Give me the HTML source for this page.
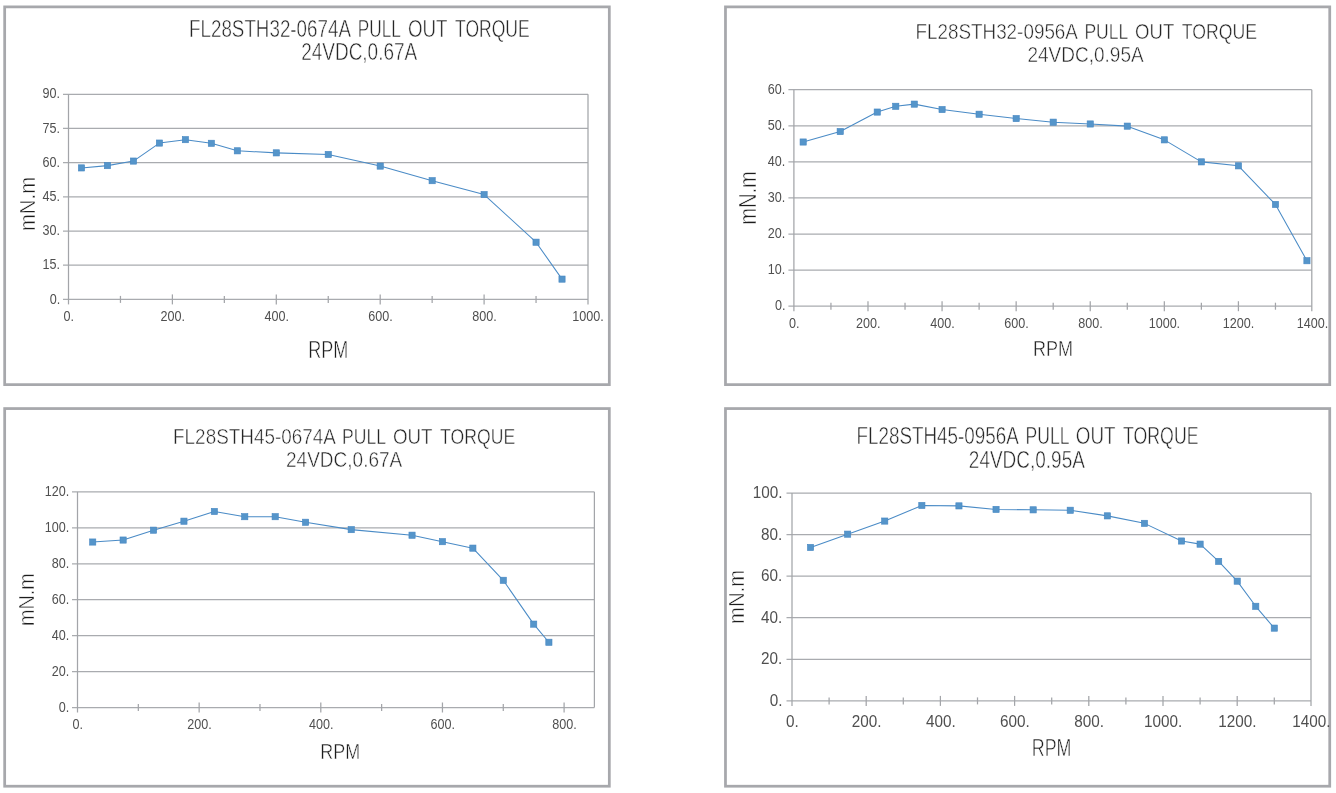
<!DOCTYPE html>
<html><head><meta charset="utf-8"><style>
html,body{margin:0;padding:0;background:#fff;width:1336px;height:793px;overflow:hidden}
svg{display:block}
text{font-family:"Liberation Sans", sans-serif}
.t{stroke:#fff;stroke-width:0.5px}
.l{}
</style></head><body>
<svg width="1336" height="793" viewBox="0 0 1336 793">
<defs><filter id="b" x="0" y="0" width="1336" height="793" filterUnits="userSpaceOnUse"><feGaussianBlur stdDeviation="0.35"/></filter></defs>
<g filter="url(#b)">
<rect width="1336" height="793" fill="#fff"/>
<rect x="4.67" y="6.88" width="604.65" height="377.75" fill="none" stroke="#a7a8ac" stroke-width="2.75"/>
<line x1="63.00" y1="299.40" x2="588.00" y2="299.40" stroke="#a9abaf" stroke-width="1.25"/>
<line x1="63.00" y1="265.22" x2="588.00" y2="265.22" stroke="#a9abaf" stroke-width="1.25"/>
<line x1="63.00" y1="231.03" x2="588.00" y2="231.03" stroke="#a9abaf" stroke-width="1.25"/>
<line x1="63.00" y1="196.85" x2="588.00" y2="196.85" stroke="#a9abaf" stroke-width="1.25"/>
<line x1="63.00" y1="162.67" x2="588.00" y2="162.67" stroke="#a9abaf" stroke-width="1.25"/>
<line x1="63.00" y1="128.48" x2="588.00" y2="128.48" stroke="#a9abaf" stroke-width="1.25"/>
<line x1="63.00" y1="94.30" x2="588.00" y2="94.30" stroke="#a9abaf" stroke-width="1.25"/>
<line x1="68.50" y1="94.30" x2="68.50" y2="304.40" stroke="#a3a5a9" stroke-width="1.25"/>
<line x1="588.00" y1="94.30" x2="588.00" y2="304.40" stroke="#a3a5a9" stroke-width="1.25"/>
<line x1="120.45" y1="295.90" x2="120.45" y2="302.90" stroke="#a3a5a9" stroke-width="1.25"/>
<line x1="172.40" y1="294.40" x2="172.40" y2="304.40" stroke="#a3a5a9" stroke-width="1.25"/>
<line x1="224.35" y1="295.90" x2="224.35" y2="302.90" stroke="#a3a5a9" stroke-width="1.25"/>
<line x1="276.30" y1="294.40" x2="276.30" y2="304.40" stroke="#a3a5a9" stroke-width="1.25"/>
<line x1="328.25" y1="295.90" x2="328.25" y2="302.90" stroke="#a3a5a9" stroke-width="1.25"/>
<line x1="380.20" y1="294.40" x2="380.20" y2="304.40" stroke="#a3a5a9" stroke-width="1.25"/>
<line x1="432.15" y1="295.90" x2="432.15" y2="302.90" stroke="#a3a5a9" stroke-width="1.25"/>
<line x1="484.10" y1="294.40" x2="484.10" y2="304.40" stroke="#a3a5a9" stroke-width="1.25"/>
<line x1="536.05" y1="295.90" x2="536.05" y2="302.90" stroke="#a3a5a9" stroke-width="1.25"/>
<text class="l" transform="translate(49.68,303.50) scale(0.9000,1)" font-size="14.00" fill="#505050">0.</text>
<text class="l" transform="translate(42.62,269.32) scale(0.9000,1)" font-size="14.00" fill="#505050">15.</text>
<text class="l" transform="translate(42.62,235.13) scale(0.9000,1)" font-size="14.00" fill="#505050">30.</text>
<text class="l" transform="translate(42.62,200.95) scale(0.9000,1)" font-size="14.00" fill="#505050">45.</text>
<text class="l" transform="translate(42.62,166.77) scale(0.9000,1)" font-size="14.00" fill="#505050">60.</text>
<text class="l" transform="translate(42.62,132.58) scale(0.9000,1)" font-size="14.00" fill="#505050">75.</text>
<text class="l" transform="translate(42.62,98.40) scale(0.9000,1)" font-size="14.00" fill="#505050">90.</text>
<text class="l" transform="translate(63.59,321.20) scale(0.9000,1)" font-size="14.00" fill="#505050">0.</text>
<text class="l" transform="translate(160.43,321.20) scale(0.9000,1)" font-size="14.00" fill="#505050">200.</text>
<text class="l" transform="translate(264.52,321.20) scale(0.9000,1)" font-size="14.00" fill="#505050">400.</text>
<text class="l" transform="translate(368.23,321.20) scale(0.9000,1)" font-size="14.00" fill="#505050">600.</text>
<text class="l" transform="translate(472.19,321.20) scale(0.9000,1)" font-size="14.00" fill="#505050">800.</text>
<text class="l" transform="translate(572.31,321.20) scale(0.9000,1)" font-size="14.00" fill="#505050">1000.</text>
<polyline points="81.49,167.91 107.46,165.63 133.44,161.07 159.41,143.07 185.39,139.65 211.36,143.30 237.34,150.82 276.30,152.87 328.25,154.46 380.20,166.09 432.15,180.67 484.10,194.57 536.05,242.20 562.02,279.12" fill="none" stroke="#4a8bc6" stroke-width="1.05" stroke-linejoin="round"/>
<rect x="78.39" y="164.81" width="6.2" height="6.2" fill="#5595ca" stroke="#4586c2" stroke-width="0.6"/>
<rect x="104.36" y="162.53" width="6.2" height="6.2" fill="#5595ca" stroke="#4586c2" stroke-width="0.6"/>
<rect x="130.34" y="157.97" width="6.2" height="6.2" fill="#5595ca" stroke="#4586c2" stroke-width="0.6"/>
<rect x="156.31" y="139.97" width="6.2" height="6.2" fill="#5595ca" stroke="#4586c2" stroke-width="0.6"/>
<rect x="182.29" y="136.55" width="6.2" height="6.2" fill="#5595ca" stroke="#4586c2" stroke-width="0.6"/>
<rect x="208.26" y="140.20" width="6.2" height="6.2" fill="#5595ca" stroke="#4586c2" stroke-width="0.6"/>
<rect x="234.24" y="147.72" width="6.2" height="6.2" fill="#5595ca" stroke="#4586c2" stroke-width="0.6"/>
<rect x="273.20" y="149.77" width="6.2" height="6.2" fill="#5595ca" stroke="#4586c2" stroke-width="0.6"/>
<rect x="325.15" y="151.36" width="6.2" height="6.2" fill="#5595ca" stroke="#4586c2" stroke-width="0.6"/>
<rect x="377.10" y="162.99" width="6.2" height="6.2" fill="#5595ca" stroke="#4586c2" stroke-width="0.6"/>
<rect x="429.05" y="177.57" width="6.2" height="6.2" fill="#5595ca" stroke="#4586c2" stroke-width="0.6"/>
<rect x="481.00" y="191.47" width="6.2" height="6.2" fill="#5595ca" stroke="#4586c2" stroke-width="0.6"/>
<rect x="532.95" y="239.10" width="6.2" height="6.2" fill="#5595ca" stroke="#4586c2" stroke-width="0.6"/>
<rect x="558.92" y="276.02" width="6.2" height="6.2" fill="#5595ca" stroke="#4586c2" stroke-width="0.6"/>
<text class="t" transform="translate(189.00,37.10) scale(0.8125,1)" font-size="23.14" fill="#262626">FL28STH32-0674A</text>
<text class="t" transform="translate(357.72,37.10) scale(0.7449,1)" font-size="23.14" fill="#262626">PULL</text>
<text class="t" transform="translate(408.06,37.10) scale(0.8091,1)" font-size="23.14" fill="#262626">OUT</text>
<text class="t" transform="translate(455.05,37.10) scale(0.7582,1)" font-size="23.14" fill="#262626">TORQUE</text>
<text class="t" transform="translate(301.15,60.40) scale(0.8258,1)" font-size="23.00" fill="#262626">24VDC,0.67A</text>
<text class="t" transform="translate(308.26,357.80) scale(0.7788,1)" font-size="23.19" fill="#1f1f1f">RPM</text>
<text class="t" transform="translate(35.20,231.12) rotate(-90) scale(0.8890,1)" font-size="22.90" fill="#1f1f1f">mN.m</text>
<rect x="725.48" y="6.88" width="604.25" height="377.75" fill="none" stroke="#a7a8ac" stroke-width="2.75"/>
<line x1="788.40" y1="306.20" x2="1311.80" y2="306.20" stroke="#a9abaf" stroke-width="1.25"/>
<line x1="788.40" y1="270.12" x2="1311.80" y2="270.12" stroke="#a9abaf" stroke-width="1.25"/>
<line x1="788.40" y1="234.03" x2="1311.80" y2="234.03" stroke="#a9abaf" stroke-width="1.25"/>
<line x1="788.40" y1="197.95" x2="1311.80" y2="197.95" stroke="#a9abaf" stroke-width="1.25"/>
<line x1="788.40" y1="161.87" x2="1311.80" y2="161.87" stroke="#a9abaf" stroke-width="1.25"/>
<line x1="788.40" y1="125.78" x2="1311.80" y2="125.78" stroke="#a9abaf" stroke-width="1.25"/>
<line x1="788.40" y1="89.70" x2="1311.80" y2="89.70" stroke="#a9abaf" stroke-width="1.25"/>
<line x1="793.90" y1="89.70" x2="793.90" y2="311.20" stroke="#a3a5a9" stroke-width="1.25"/>
<line x1="1311.80" y1="89.70" x2="1311.80" y2="311.20" stroke="#a3a5a9" stroke-width="1.25"/>
<line x1="830.94" y1="302.70" x2="830.94" y2="309.70" stroke="#a3a5a9" stroke-width="1.25"/>
<line x1="867.99" y1="301.20" x2="867.99" y2="311.20" stroke="#a3a5a9" stroke-width="1.25"/>
<line x1="905.03" y1="302.70" x2="905.03" y2="309.70" stroke="#a3a5a9" stroke-width="1.25"/>
<line x1="942.07" y1="301.20" x2="942.07" y2="311.20" stroke="#a3a5a9" stroke-width="1.25"/>
<line x1="979.11" y1="302.70" x2="979.11" y2="309.70" stroke="#a3a5a9" stroke-width="1.25"/>
<line x1="1016.16" y1="301.20" x2="1016.16" y2="311.20" stroke="#a3a5a9" stroke-width="1.25"/>
<line x1="1053.20" y1="302.70" x2="1053.20" y2="309.70" stroke="#a3a5a9" stroke-width="1.25"/>
<line x1="1090.24" y1="301.20" x2="1090.24" y2="311.20" stroke="#a3a5a9" stroke-width="1.25"/>
<line x1="1127.29" y1="302.70" x2="1127.29" y2="309.70" stroke="#a3a5a9" stroke-width="1.25"/>
<line x1="1164.33" y1="301.20" x2="1164.33" y2="311.20" stroke="#a3a5a9" stroke-width="1.25"/>
<line x1="1201.37" y1="302.70" x2="1201.37" y2="309.70" stroke="#a3a5a9" stroke-width="1.25"/>
<line x1="1238.41" y1="301.20" x2="1238.41" y2="311.20" stroke="#a3a5a9" stroke-width="1.25"/>
<line x1="1275.46" y1="302.70" x2="1275.46" y2="309.70" stroke="#a3a5a9" stroke-width="1.25"/>
<text class="l" transform="translate(774.88,310.30) scale(0.9000,1)" font-size="14.00" fill="#505050">0.</text>
<text class="l" transform="translate(767.82,274.22) scale(0.9000,1)" font-size="14.00" fill="#505050">10.</text>
<text class="l" transform="translate(767.82,238.13) scale(0.9000,1)" font-size="14.00" fill="#505050">20.</text>
<text class="l" transform="translate(767.82,202.05) scale(0.9000,1)" font-size="14.00" fill="#505050">30.</text>
<text class="l" transform="translate(767.82,165.97) scale(0.9000,1)" font-size="14.00" fill="#505050">40.</text>
<text class="l" transform="translate(767.82,129.88) scale(0.9000,1)" font-size="14.00" fill="#505050">50.</text>
<text class="l" transform="translate(767.82,93.80) scale(0.9000,1)" font-size="14.00" fill="#505050">60.</text>
<text class="l" transform="translate(788.99,328.00) scale(0.9000,1)" font-size="14.00" fill="#505050">0.</text>
<text class="l" transform="translate(856.02,328.00) scale(0.9000,1)" font-size="14.00" fill="#505050">200.</text>
<text class="l" transform="translate(930.29,328.00) scale(0.9000,1)" font-size="14.00" fill="#505050">400.</text>
<text class="l" transform="translate(1004.19,328.00) scale(0.9000,1)" font-size="14.00" fill="#505050">600.</text>
<text class="l" transform="translate(1078.34,328.00) scale(0.9000,1)" font-size="14.00" fill="#505050">800.</text>
<text class="l" transform="translate(1148.64,328.00) scale(0.9000,1)" font-size="14.00" fill="#505050">1000.</text>
<text class="l" transform="translate(1222.73,328.00) scale(0.9000,1)" font-size="14.00" fill="#505050">1200.</text>
<text class="l" transform="translate(1296.81,328.00) scale(0.9000,1)" font-size="14.00" fill="#505050">1400.</text>
<polyline points="803.16,142.02 840.20,131.56 877.25,112.07 895.77,106.30 914.29,104.13 942.07,109.55 979.11,114.24 1016.16,118.57 1053.20,122.17 1090.24,123.98 1127.29,126.14 1164.33,139.86 1201.37,161.87 1238.41,165.84 1275.46,204.44 1306.94,260.74" fill="none" stroke="#4a8bc6" stroke-width="1.05" stroke-linejoin="round"/>
<rect x="800.06" y="138.92" width="6.2" height="6.2" fill="#5595ca" stroke="#4586c2" stroke-width="0.6"/>
<rect x="837.10" y="128.46" width="6.2" height="6.2" fill="#5595ca" stroke="#4586c2" stroke-width="0.6"/>
<rect x="874.15" y="108.97" width="6.2" height="6.2" fill="#5595ca" stroke="#4586c2" stroke-width="0.6"/>
<rect x="892.67" y="103.20" width="6.2" height="6.2" fill="#5595ca" stroke="#4586c2" stroke-width="0.6"/>
<rect x="911.19" y="101.03" width="6.2" height="6.2" fill="#5595ca" stroke="#4586c2" stroke-width="0.6"/>
<rect x="938.97" y="106.45" width="6.2" height="6.2" fill="#5595ca" stroke="#4586c2" stroke-width="0.6"/>
<rect x="976.01" y="111.14" width="6.2" height="6.2" fill="#5595ca" stroke="#4586c2" stroke-width="0.6"/>
<rect x="1013.06" y="115.47" width="6.2" height="6.2" fill="#5595ca" stroke="#4586c2" stroke-width="0.6"/>
<rect x="1050.10" y="119.07" width="6.2" height="6.2" fill="#5595ca" stroke="#4586c2" stroke-width="0.6"/>
<rect x="1087.14" y="120.88" width="6.2" height="6.2" fill="#5595ca" stroke="#4586c2" stroke-width="0.6"/>
<rect x="1124.19" y="123.04" width="6.2" height="6.2" fill="#5595ca" stroke="#4586c2" stroke-width="0.6"/>
<rect x="1161.23" y="136.76" width="6.2" height="6.2" fill="#5595ca" stroke="#4586c2" stroke-width="0.6"/>
<rect x="1198.27" y="158.77" width="6.2" height="6.2" fill="#5595ca" stroke="#4586c2" stroke-width="0.6"/>
<rect x="1235.31" y="162.74" width="6.2" height="6.2" fill="#5595ca" stroke="#4586c2" stroke-width="0.6"/>
<rect x="1272.36" y="201.34" width="6.2" height="6.2" fill="#5595ca" stroke="#4586c2" stroke-width="0.6"/>
<rect x="1303.84" y="257.63" width="6.2" height="6.2" fill="#5595ca" stroke="#4586c2" stroke-width="0.6"/>
<text class="t" transform="translate(915.39,38.60) scale(0.8362,1)" font-size="22.57" fill="#262626">FL28STH32-0956A</text>
<text class="t" transform="translate(1084.39,38.60) scale(0.7786,1)" font-size="22.57" fill="#262626">PULL</text>
<text class="t" transform="translate(1135.07,38.60) scale(0.8231,1)" font-size="22.57" fill="#262626">OUT</text>
<text class="t" transform="translate(1181.75,38.60) scale(0.7827,1)" font-size="22.57" fill="#262626">TORQUE</text>
<text class="t" transform="translate(1027.45,61.80) scale(0.8422,1)" font-size="22.57" fill="#262626">24VDC,0.95A</text>
<text class="t" transform="translate(1033.06,355.80) scale(0.7936,1)" font-size="22.75" fill="#1f1f1f">RPM</text>
<text class="t" transform="translate(755.80,224.81) rotate(-90) scale(0.8676,1)" font-size="23.19" fill="#1f1f1f">mN.m</text>
<rect x="4.67" y="408.57" width="604.65" height="377.65" fill="none" stroke="#a7a8ac" stroke-width="2.75"/>
<line x1="72.00" y1="707.50" x2="594.40" y2="707.50" stroke="#a9abaf" stroke-width="1.25"/>
<line x1="72.00" y1="671.57" x2="594.40" y2="671.57" stroke="#a9abaf" stroke-width="1.25"/>
<line x1="72.00" y1="635.63" x2="594.40" y2="635.63" stroke="#a9abaf" stroke-width="1.25"/>
<line x1="72.00" y1="599.70" x2="594.40" y2="599.70" stroke="#a9abaf" stroke-width="1.25"/>
<line x1="72.00" y1="563.77" x2="594.40" y2="563.77" stroke="#a9abaf" stroke-width="1.25"/>
<line x1="72.00" y1="527.83" x2="594.40" y2="527.83" stroke="#a9abaf" stroke-width="1.25"/>
<line x1="72.00" y1="491.90" x2="594.40" y2="491.90" stroke="#a9abaf" stroke-width="1.25"/>
<line x1="77.50" y1="491.90" x2="77.50" y2="712.50" stroke="#a3a5a9" stroke-width="1.25"/>
<line x1="594.40" y1="491.90" x2="594.40" y2="707.50" stroke="#a3a5a9" stroke-width="1.25"/>
<line x1="138.33" y1="704.00" x2="138.33" y2="711.00" stroke="#a3a5a9" stroke-width="1.25"/>
<line x1="199.15" y1="702.50" x2="199.15" y2="712.50" stroke="#a3a5a9" stroke-width="1.25"/>
<line x1="259.98" y1="704.00" x2="259.98" y2="711.00" stroke="#a3a5a9" stroke-width="1.25"/>
<line x1="320.80" y1="702.50" x2="320.80" y2="712.50" stroke="#a3a5a9" stroke-width="1.25"/>
<line x1="381.63" y1="704.00" x2="381.63" y2="711.00" stroke="#a3a5a9" stroke-width="1.25"/>
<line x1="442.45" y1="702.50" x2="442.45" y2="712.50" stroke="#a3a5a9" stroke-width="1.25"/>
<line x1="503.28" y1="704.00" x2="503.28" y2="711.00" stroke="#a3a5a9" stroke-width="1.25"/>
<line x1="564.10" y1="702.50" x2="564.10" y2="712.50" stroke="#a3a5a9" stroke-width="1.25"/>
<text class="l" transform="translate(58.78,711.60) scale(0.9000,1)" font-size="14.00" fill="#505050">0.</text>
<text class="l" transform="translate(51.72,675.67) scale(0.9000,1)" font-size="14.00" fill="#505050">20.</text>
<text class="l" transform="translate(51.72,639.73) scale(0.9000,1)" font-size="14.00" fill="#505050">40.</text>
<text class="l" transform="translate(51.72,603.80) scale(0.9000,1)" font-size="14.00" fill="#505050">60.</text>
<text class="l" transform="translate(51.72,567.87) scale(0.9000,1)" font-size="14.00" fill="#505050">80.</text>
<text class="l" transform="translate(44.79,531.93) scale(0.9000,1)" font-size="14.00" fill="#505050">100.</text>
<text class="l" transform="translate(44.79,496.00) scale(0.9000,1)" font-size="14.00" fill="#505050">120.</text>
<text class="l" transform="translate(72.59,729.30) scale(0.9000,1)" font-size="14.00" fill="#505050">0.</text>
<text class="l" transform="translate(187.18,729.30) scale(0.9000,1)" font-size="14.00" fill="#505050">200.</text>
<text class="l" transform="translate(309.02,729.30) scale(0.9000,1)" font-size="14.00" fill="#505050">400.</text>
<text class="l" transform="translate(430.48,729.30) scale(0.9000,1)" font-size="14.00" fill="#505050">600.</text>
<text class="l" transform="translate(552.19,729.30) scale(0.9000,1)" font-size="14.00" fill="#505050">800.</text>
<polyline points="92.71,542.03 123.12,540.05 153.53,530.17 183.94,521.19 214.36,511.48 244.77,516.69 275.18,516.69 305.59,522.26 351.21,529.63 412.04,535.20 442.45,541.67 472.86,548.14 503.28,580.30 533.69,624.13 548.89,642.28" fill="none" stroke="#4a8bc6" stroke-width="1.05" stroke-linejoin="round"/>
<rect x="89.61" y="538.93" width="6.2" height="6.2" fill="#5595ca" stroke="#4586c2" stroke-width="0.6"/>
<rect x="120.02" y="536.95" width="6.2" height="6.2" fill="#5595ca" stroke="#4586c2" stroke-width="0.6"/>
<rect x="150.43" y="527.07" width="6.2" height="6.2" fill="#5595ca" stroke="#4586c2" stroke-width="0.6"/>
<rect x="180.84" y="518.09" width="6.2" height="6.2" fill="#5595ca" stroke="#4586c2" stroke-width="0.6"/>
<rect x="211.26" y="508.38" width="6.2" height="6.2" fill="#5595ca" stroke="#4586c2" stroke-width="0.6"/>
<rect x="241.67" y="513.59" width="6.2" height="6.2" fill="#5595ca" stroke="#4586c2" stroke-width="0.6"/>
<rect x="272.08" y="513.59" width="6.2" height="6.2" fill="#5595ca" stroke="#4586c2" stroke-width="0.6"/>
<rect x="302.49" y="519.16" width="6.2" height="6.2" fill="#5595ca" stroke="#4586c2" stroke-width="0.6"/>
<rect x="348.11" y="526.53" width="6.2" height="6.2" fill="#5595ca" stroke="#4586c2" stroke-width="0.6"/>
<rect x="408.94" y="532.10" width="6.2" height="6.2" fill="#5595ca" stroke="#4586c2" stroke-width="0.6"/>
<rect x="439.35" y="538.57" width="6.2" height="6.2" fill="#5595ca" stroke="#4586c2" stroke-width="0.6"/>
<rect x="469.76" y="545.04" width="6.2" height="6.2" fill="#5595ca" stroke="#4586c2" stroke-width="0.6"/>
<rect x="500.18" y="577.20" width="6.2" height="6.2" fill="#5595ca" stroke="#4586c2" stroke-width="0.6"/>
<rect x="530.59" y="621.03" width="6.2" height="6.2" fill="#5595ca" stroke="#4586c2" stroke-width="0.6"/>
<rect x="545.79" y="639.18" width="6.2" height="6.2" fill="#5595ca" stroke="#4586c2" stroke-width="0.6"/>
<text class="t" transform="translate(173.09,443.70) scale(0.8320,1)" font-size="22.71" fill="#262626">FL28STH45-0674A</text>
<text class="t" transform="translate(342.09,443.70) scale(0.7755,1)" font-size="22.71" fill="#262626">PULL</text>
<text class="t" transform="translate(392.96,443.70) scale(0.8266,1)" font-size="22.71" fill="#262626">OUT</text>
<text class="t" transform="translate(440.05,443.70) scale(0.7767,1)" font-size="22.71" fill="#262626">TORQUE</text>
<text class="t" transform="translate(286.05,466.90) scale(0.8476,1)" font-size="22.43" fill="#262626">24VDC,0.67A</text>
<text class="t" transform="translate(320.36,758.50) scale(0.7844,1)" font-size="22.90" fill="#1f1f1f">RPM</text>
<text class="t" transform="translate(34.20,626.09) rotate(-90) scale(0.8794,1)" font-size="22.61" fill="#1f1f1f">mN.m</text>
<rect x="725.48" y="408.57" width="604.25" height="377.65" fill="none" stroke="#a7a8ac" stroke-width="2.75"/>
<line x1="786.50" y1="700.90" x2="1311.00" y2="700.90" stroke="#a9abaf" stroke-width="1.25"/>
<line x1="786.50" y1="659.32" x2="1311.00" y2="659.32" stroke="#a9abaf" stroke-width="1.25"/>
<line x1="786.50" y1="617.74" x2="1311.00" y2="617.74" stroke="#a9abaf" stroke-width="1.25"/>
<line x1="786.50" y1="576.16" x2="1311.00" y2="576.16" stroke="#a9abaf" stroke-width="1.25"/>
<line x1="786.50" y1="534.58" x2="1311.00" y2="534.58" stroke="#a9abaf" stroke-width="1.25"/>
<line x1="786.50" y1="493.00" x2="1311.00" y2="493.00" stroke="#a9abaf" stroke-width="1.25"/>
<line x1="792.00" y1="493.00" x2="792.00" y2="705.90" stroke="#a3a5a9" stroke-width="1.25"/>
<line x1="1311.00" y1="493.00" x2="1311.00" y2="705.90" stroke="#a3a5a9" stroke-width="1.25"/>
<line x1="829.10" y1="697.40" x2="829.10" y2="704.40" stroke="#a3a5a9" stroke-width="1.25"/>
<line x1="866.20" y1="695.90" x2="866.20" y2="705.90" stroke="#a3a5a9" stroke-width="1.25"/>
<line x1="903.30" y1="697.40" x2="903.30" y2="704.40" stroke="#a3a5a9" stroke-width="1.25"/>
<line x1="940.40" y1="695.90" x2="940.40" y2="705.90" stroke="#a3a5a9" stroke-width="1.25"/>
<line x1="977.50" y1="697.40" x2="977.50" y2="704.40" stroke="#a3a5a9" stroke-width="1.25"/>
<line x1="1014.60" y1="695.90" x2="1014.60" y2="705.90" stroke="#a3a5a9" stroke-width="1.25"/>
<line x1="1051.70" y1="697.40" x2="1051.70" y2="704.40" stroke="#a3a5a9" stroke-width="1.25"/>
<line x1="1088.80" y1="695.90" x2="1088.80" y2="705.90" stroke="#a3a5a9" stroke-width="1.25"/>
<line x1="1125.90" y1="697.40" x2="1125.90" y2="704.40" stroke="#a3a5a9" stroke-width="1.25"/>
<line x1="1163.00" y1="695.90" x2="1163.00" y2="705.90" stroke="#a3a5a9" stroke-width="1.25"/>
<line x1="1200.10" y1="697.40" x2="1200.10" y2="704.40" stroke="#a3a5a9" stroke-width="1.25"/>
<line x1="1237.20" y1="695.90" x2="1237.20" y2="705.90" stroke="#a3a5a9" stroke-width="1.25"/>
<line x1="1274.30" y1="697.40" x2="1274.30" y2="704.40" stroke="#a3a5a9" stroke-width="1.25"/>
<text class="l" transform="translate(769.68,706.05) scale(0.9000,1)" font-size="17.00" fill="#505050">0.</text>
<text class="l" transform="translate(761.11,664.47) scale(0.9000,1)" font-size="17.00" fill="#505050">20.</text>
<text class="l" transform="translate(761.11,622.89) scale(0.9000,1)" font-size="17.00" fill="#505050">40.</text>
<text class="l" transform="translate(761.11,581.31) scale(0.9000,1)" font-size="17.00" fill="#505050">60.</text>
<text class="l" transform="translate(761.11,539.73) scale(0.9000,1)" font-size="17.00" fill="#505050">80.</text>
<text class="l" transform="translate(752.70,498.15) scale(0.9000,1)" font-size="17.00" fill="#505050">100.</text>
<text class="l" transform="translate(786.03,726.70) scale(0.9000,1)" font-size="17.00" fill="#505050">0.</text>
<text class="l" transform="translate(851.67,726.70) scale(0.9000,1)" font-size="17.00" fill="#505050">200.</text>
<text class="l" transform="translate(926.09,726.70) scale(0.9000,1)" font-size="17.00" fill="#505050">400.</text>
<text class="l" transform="translate(1000.07,726.70) scale(0.9000,1)" font-size="17.00" fill="#505050">600.</text>
<text class="l" transform="translate(1074.34,726.70) scale(0.9000,1)" font-size="17.00" fill="#505050">800.</text>
<text class="l" transform="translate(1143.95,726.70) scale(0.9000,1)" font-size="17.00" fill="#505050">1000.</text>
<text class="l" transform="translate(1218.15,726.70) scale(0.9000,1)" font-size="17.00" fill="#505050">1200.</text>
<text class="l" transform="translate(1292.35,726.70) scale(0.9000,1)" font-size="17.00" fill="#505050">1400.</text>
<polyline points="810.55,547.47 847.65,534.16 884.75,521.07 921.85,505.47 958.95,505.89 996.05,509.42 1033.15,509.84 1070.25,510.26 1107.35,515.87 1144.45,523.35 1181.55,541.02 1200.10,544.14 1218.65,561.40 1237.20,581.15 1255.75,606.31 1274.30,628.13" fill="none" stroke="#4a8bc6" stroke-width="1.05" stroke-linejoin="round"/>
<rect x="807.45" y="544.37" width="6.2" height="6.2" fill="#5595ca" stroke="#4586c2" stroke-width="0.6"/>
<rect x="844.55" y="531.06" width="6.2" height="6.2" fill="#5595ca" stroke="#4586c2" stroke-width="0.6"/>
<rect x="881.65" y="517.97" width="6.2" height="6.2" fill="#5595ca" stroke="#4586c2" stroke-width="0.6"/>
<rect x="918.75" y="502.37" width="6.2" height="6.2" fill="#5595ca" stroke="#4586c2" stroke-width="0.6"/>
<rect x="955.85" y="502.79" width="6.2" height="6.2" fill="#5595ca" stroke="#4586c2" stroke-width="0.6"/>
<rect x="992.95" y="506.32" width="6.2" height="6.2" fill="#5595ca" stroke="#4586c2" stroke-width="0.6"/>
<rect x="1030.05" y="506.74" width="6.2" height="6.2" fill="#5595ca" stroke="#4586c2" stroke-width="0.6"/>
<rect x="1067.15" y="507.16" width="6.2" height="6.2" fill="#5595ca" stroke="#4586c2" stroke-width="0.6"/>
<rect x="1104.25" y="512.77" width="6.2" height="6.2" fill="#5595ca" stroke="#4586c2" stroke-width="0.6"/>
<rect x="1141.35" y="520.25" width="6.2" height="6.2" fill="#5595ca" stroke="#4586c2" stroke-width="0.6"/>
<rect x="1178.45" y="537.92" width="6.2" height="6.2" fill="#5595ca" stroke="#4586c2" stroke-width="0.6"/>
<rect x="1197.00" y="541.04" width="6.2" height="6.2" fill="#5595ca" stroke="#4586c2" stroke-width="0.6"/>
<rect x="1215.55" y="558.30" width="6.2" height="6.2" fill="#5595ca" stroke="#4586c2" stroke-width="0.6"/>
<rect x="1234.10" y="578.05" width="6.2" height="6.2" fill="#5595ca" stroke="#4586c2" stroke-width="0.6"/>
<rect x="1252.65" y="603.21" width="6.2" height="6.2" fill="#5595ca" stroke="#4586c2" stroke-width="0.6"/>
<rect x="1271.20" y="625.03" width="6.2" height="6.2" fill="#5595ca" stroke="#4586c2" stroke-width="0.6"/>
<text class="t" transform="translate(856.49,444.40) scale(0.8096,1)" font-size="23.29" fill="#262626">FL28STH45-0956A</text>
<text class="t" transform="translate(1025.49,444.40) scale(0.7547,1)" font-size="23.29" fill="#262626">PULL</text>
<text class="t" transform="translate(1075.86,444.40) scale(0.8084,1)" font-size="23.29" fill="#262626">OUT</text>
<text class="t" transform="translate(1123.05,444.40) scale(0.7607,1)" font-size="23.29" fill="#262626">TORQUE</text>
<text class="t" transform="translate(968.85,467.80) scale(0.8150,1)" font-size="23.29" fill="#262626">24VDC,0.95A</text>
<text class="t" transform="translate(1031.77,756.00) scale(0.7704,1)" font-size="23.19" fill="#1f1f1f">RPM</text>
<text class="t" transform="translate(743.90,624.02) rotate(-90) scale(0.9103,1)" font-size="22.32" fill="#1f1f1f">mN.m</text>
</g>
</svg></body></html>
